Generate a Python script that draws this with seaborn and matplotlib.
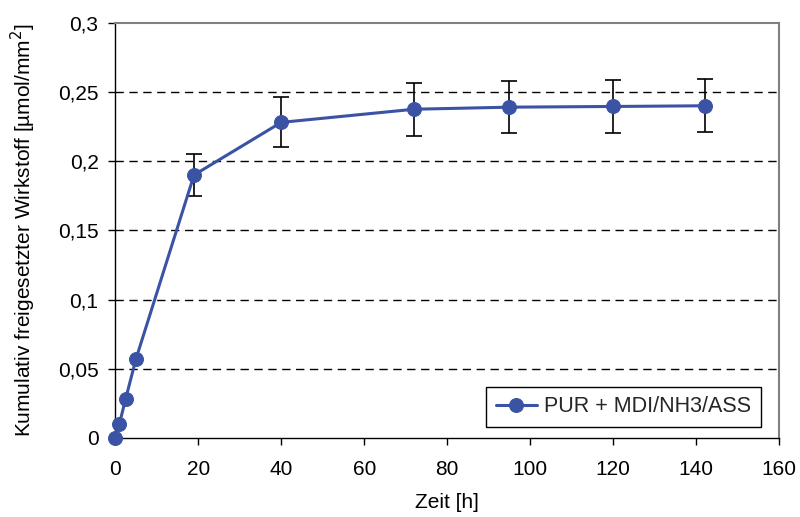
import numpy as np
import pandas as pd
import matplotlib
matplotlib.use("Agg")
import matplotlib.pyplot as plt
import seaborn as sns
from matplotlib.ticker import FuncFormatter

# Data
zeit = [0, 1, 2.5, 5, 19, 40, 72, 95, 120, 142]
wirkstoff = [0.0, 0.010, 0.028, 0.057, 0.190, 0.228, 0.2375, 0.239, 0.2395, 0.240]
fehler = [0, 0, 0, 0, 0.015, 0.018, 0.019, 0.019, 0.019, 0.019]
serie = "PUR + MDI/NH3/ASS"

df = pd.DataFrame({"Zeit": zeit, "Wert": wirkstoff, "Fehler": fehler})

sns.set_theme(style="white")
plt.rcParams['font.family'] = ['Liberation Sans', 'DejaVu Sans']

blue = "#3A53A4"

fig = plt.figure(figsize=(8, 5.17), dpi=100)
ax = fig.add_axes([0.144, 0.153, 0.830, 0.803])

# Error bars only where there is a spread
mit_fehler = df[df["Fehler"] > 0]
ax.errorbar(mit_fehler["Zeit"], mit_fehler["Wert"], yerr=mit_fehler["Fehler"], fmt="none",
            ecolor="black", elinewidth=1.2, capsize=5.5, capthick=1.2, zorder=2)

sns.lineplot(data=df, x="Zeit", y="Wert", ax=ax, color=blue, linewidth=2.2,
             marker="o", markersize=10, markeredgecolor=blue, label=serie,
             zorder=3, clip_on=False)

ax.set_xlim(0, 160)
ax.set_ylim(0, 0.3)
ax.set_xticks(np.arange(0, 161, 20))
ax.set_yticks(np.arange(0, 0.301, 0.05))
ax.yaxis.set_major_formatter(FuncFormatter(
    lambda v, p: f"{v:.2f}".rstrip("0").rstrip(".").replace(".", ",") if abs(v) > 1e-9 else "0"))

for y in np.arange(0.05, 0.26, 0.05):
    ax.axhline(y, color="black", linestyle=(0, (6, 4)), linewidth=1.0, zorder=1)

for s in ["left", "bottom"]:
    ax.spines[s].set_color("black")
    ax.spines[s].set_linewidth(1.0)
for s in ["top", "right"]:
    ax.spines[s].set_color("#808080")
    ax.spines[s].set_linewidth(1.5)

ax.tick_params(axis="both", direction="out", length=5, width=1, color="black",
               labelsize=15, labelcolor="black", left=True, bottom=True)
ax.tick_params(axis="x", pad=11)
ax.tick_params(axis="y", pad=7)
ax.set_xlabel("Zeit [h]", fontsize=15, color="black")
ax.set_ylabel("Kumulativ freigesetzter Wirkstoff [µmol/mm$^2$]", fontsize=15, color="black")
ax.xaxis.set_label_coords(0.5, -0.132)
ax.yaxis.set_label_coords(-0.116, 0.5)

leg = ax.legend(loc="lower right", bbox_to_anchor=(0.973, 0.026), fontsize=15.5,
                frameon=True, fancybox=False, edgecolor="black", framealpha=1,
                handlelength=1.9, handletextpad=0.35, borderpad=0.45, borderaxespad=0)
leg.get_frame().set_linewidth(1.0)

fig.savefig("out.png", dpi=100)
